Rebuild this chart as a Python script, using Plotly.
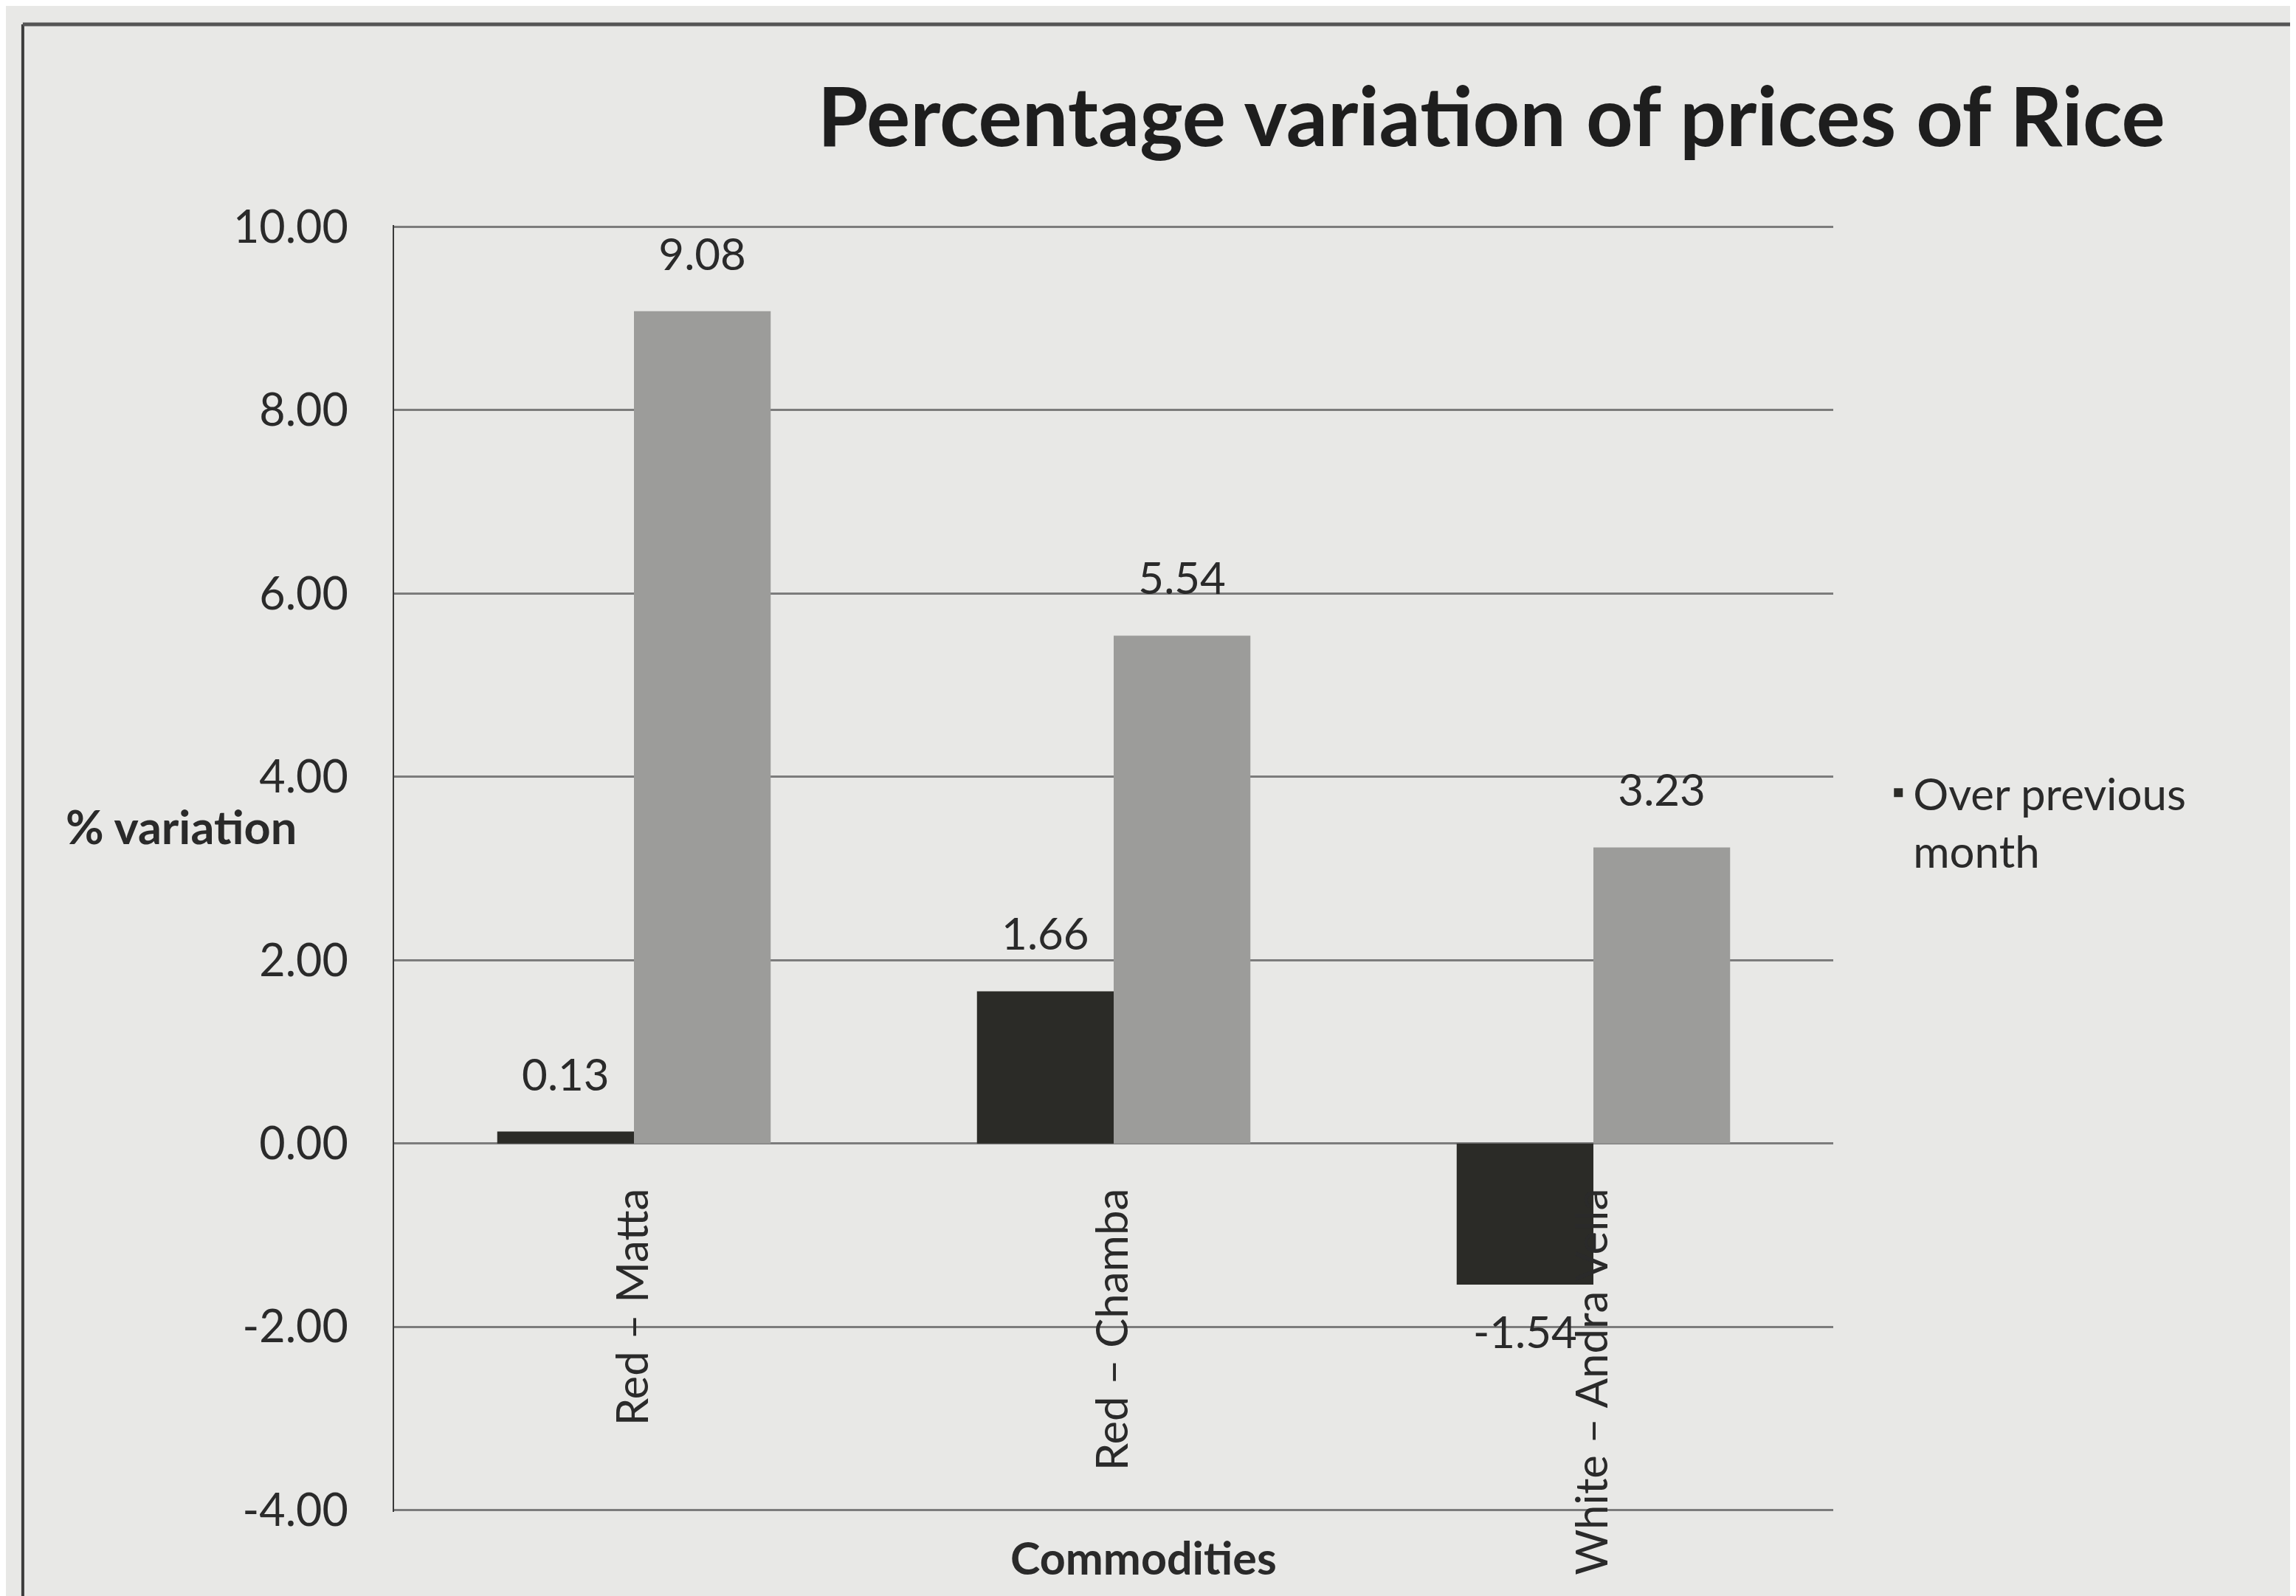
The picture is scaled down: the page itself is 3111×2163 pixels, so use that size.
import plotly.graph_objects as go

# data
commodities = ['Red – Matta', 'Red – Chamba', 'White – Andra Vella']
over_prev_month = [0.13, 1.66, -1.54]
over_prev_year = [9.08, 5.54, 3.23]
y_ticks = [-4, -2, 0, 2, 4, 6, 8, 10]

y_min, y_max = -4, 10
FONT = 'Lato, "Open Sans", sans-serif'
BG = '#e8e8e6'
TXT = '#2a2a2a'


def value_labels(values, group):
    ''' text labels floating a little clear of the bar ends '''
    return go.Scatter(
        x=commodities,
        y=values,
        mode='markers+text',
        offsetgroup=group,
        text=[f'{v:.2f}' for v in values],
        textposition=['top center' if v >= 0 else 'bottom center' for v in values],
        textfont=dict(size=60, color=TXT, family=FONT),
        marker=dict(size=64, opacity=0),
        cliponaxis=False,
        showlegend=False,
        hoverinfo='skip',
    )


fig = go.Figure()

fig.add_trace(
    go.Bar(
        x=commodities,
        y=over_prev_month,
        name='Over previous<br>month',
        offsetgroup='m',
        marker=dict(color='#2b2b27', line=dict(width=0)),
    )
)

fig.add_trace(
    go.Bar(
        x=commodities,
        y=over_prev_year,
        name='Over previous year',
        offsetgroup='y',
        showlegend=False,
        marker=dict(color='#9c9c9a', line=dict(width=0)),
    )
)

fig.add_trace(value_labels(over_prev_month, 'm'))
fig.add_trace(value_labels(over_prev_year, 'y'))

# category labels sit just under the zero line, as in the original
pad = 0.02
zero_pos = (0 - (y_min - pad)) / ((y_max + pad) - (y_min - pad))

fig.update_layout(
    width=3111,
    height=2163,
    paper_bgcolor=BG,
    plot_bgcolor=BG,
    barmode='group',
    bargap=0.43,
    bargroupgap=0,
    scattermode='group',
    scattergap=0.43,
    margin=dict(l=526, r=635, t=297, b=122, autoexpand=False),
    font=dict(family=FONT, size=60, color=TXT),
    title=dict(
        text='<b>Percentage variation of prices of Rice</b>',
        font=dict(size=111, family=FONT, color='#1e1e1e'),
        xref='container', x=0.647, xanchor='center',
        yref='container', y=0.93, yanchor='middle',
    ),
    xaxis=dict(
        anchor='free',
        position=zero_pos,
        showline=False,
        showgrid=False,
        ticks='',
        tickangle=-90,
        ticklabelstandoff=48,
        tickfont=dict(size=60, family=FONT, color=TXT),
        automargin=False,
    ),
    yaxis=dict(
        range=[y_min - pad, y_max + pad],
        tickvals=y_ticks,
        ticktext=[f'{v:.2f}' for v in y_ticks],
        showgrid=True,
        gridcolor='#7c7c7c',
        gridwidth=3,
        zeroline=False,
        showline=True,
        linecolor='#3a3a3a',
        linewidth=2,
        ticks='',
        ticklabelstandoff=48,
        tickfont=dict(size=61, family=FONT, color=TXT),
        automargin=False,
    ),
    legend=dict(
        x=1.035, xanchor='left',
        y=0.585, yanchor='top',
        valign='top',
        bgcolor='rgba(0,0,0,0)',
        font=dict(size=60, family=FONT, color=TXT),
    ),
    annotations=[
        dict(text='<b>% variation</b>', xref='paper', yref='paper',
             x=-0.148, y=0.533, xanchor='center', yanchor='middle',
             showarrow=False,
             font=dict(size=63, family=FONT, color=TXT)),
        dict(text='<b>Commodities</b>', xref='paper', yref='paper',
             x=0.521, y=-0.035, xanchor='center', yanchor='middle',
             showarrow=False,
             font=dict(size=61, family=FONT, color=TXT)),
    ],
    shapes=[
        # outer frame of the printed chart (left and top edges)
        dict(type='line', xref='paper', yref='paper',
             x0=-0.258, x1=-0.258, y0=-0.2, y1=1.156,
             line=dict(color='#3c3c3c', width=4)),
        dict(type='line', xref='paper', yref='paper',
             x0=-0.258, x1=1.4, y0=1.156, y1=1.156,
             line=dict(color='#555555', width=5)),
    ],
)

fig.write_html('out.html')
